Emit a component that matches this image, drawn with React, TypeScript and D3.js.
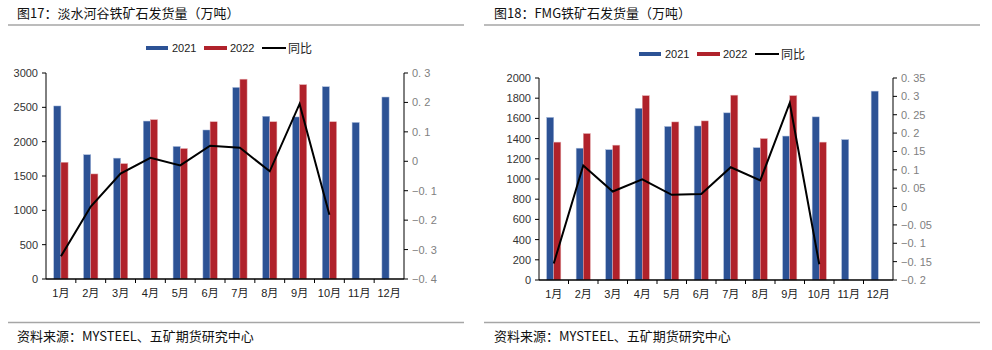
import React from "react";
import * as d3 from "d3";

// months
const months = ["1月", "2月", "3月", "4月", "5月", "6月", "7月", "8月", "9月", "10月", "11月", "12月"];

// Vale shipments (万吨)
const vale2021 = [2520, 1810, 1760, 2300, 1930, 2170, 2790, 2370, 2360, 2800, 2280, 2650];
const vale2022 = [1700, 1530, 1680, 2320, 1900, 2290, 2910, 2290, 2830, 2290];
const valeYoy = [-0.323, -0.154, -0.042, 0.012, -0.014, 0.053, 0.046, -0.034, 0.195, -0.182];
const valeLeftTicks = [0, 500, 1000, 1500, 2000, 2500, 3000];
const valeRightTicks = [-0.4, -0.3, -0.2, -0.1, 0, 0.1, 0.2, 0.3];

// FMG shipments (万吨)
const fmg2021 = [1610, 1305, 1290, 1700, 1520, 1525, 1655, 1310, 1425, 1615, 1390, 1870];
const fmg2022 = [1365, 1450, 1335, 1825, 1565, 1575, 1830, 1400, 1825, 1365];
const fmgYoy = [-0.155, 0.112, 0.041, 0.074, 0.032, 0.034, 0.107, 0.071, 0.282, -0.157];
const fmgLeftTicks = [0, 200, 400, 600, 800, 1000, 1200, 1400, 1600, 1800, 2000];
const fmgRightTicks = [-0.2, -0.15, -0.1, -0.05, 0, 0.05, 0.1, 0.15, 0.2, 0.25, 0.3, 0.35];

const BLUE = "#2c5295";
const RED = "#b0222b";
const CJK = "'Noto Sans CJK SC', 'Liberation Sans', sans-serif";
const NUM = "'Liberation Sans', Arial, sans-serif";

const fmtRight = (d: number) => {
  const s = d3.format("~g")(+d.toFixed(2));
  return s.replace(".", ". ");
};

interface PanelProps {
  title: string;
  ox: number; // panel left
  lineX0: number;
  lineX1: number;
  plot: { x0: number; x1: number; y0: number; y1: number };
  d2021: number[];
  d2022: number[];
  yoy: number[];
  leftTicks: number[];
  rightTicks: number[];
  legendX: number;
  legendY: number;
}

const Panel: React.FC<PanelProps> = ({
  title,
  ox,
  lineX0,
  lineX1,
  plot,
  d2021,
  d2022,
  yoy,
  leftTicks,
  rightTicks,
  legendX,
  legendY,
}) => {
  const x = d3.scaleBand<string>().domain(months).range([plot.x0, plot.x1]);
  const bw = x.bandwidth();
  const barW = bw * 0.24;
  const yL = d3
    .scaleLinear()
    .domain([leftTicks[0], leftTicks[leftTicks.length - 1]])
    .range([plot.y1, plot.y0]);
  const yR = d3
    .scaleLinear()
    .domain([rightTicks[0], rightTicks[rightTicks.length - 1]])
    .range([plot.y1, plot.y0]);

  const line = d3
    .line<number>()
    .x((_, i) => (x(months[i]) as number) + bw / 2)
    .y((d) => yR(d));

  return (
    <g>
      {/* title */}
      <text x={ox + 17} y={18} fontFamily={CJK} fontSize={13} fill="#111">
        {title}
      </text>
      <line x1={lineX0} x2={lineX1} y1={25} y2={25} stroke="#a6a6a6" strokeWidth={1.5} />

      {/* legend */}
      <g fontSize={11}>
        <rect x={legendX} y={legendY - 2} width={22} height={4} fill={BLUE} />
        <text x={legendX + 26} y={legendY + 4} fontFamily={NUM} fill="#222">2021</text>
        <rect x={legendX + 58} y={legendY - 2} width={23} height={4} fill={RED} />
        <text x={legendX + 84} y={legendY + 4} fontFamily={NUM} fill="#222">2022</text>
        <line x1={legendX + 116} x2={legendX + 140} y1={legendY} y2={legendY} stroke="#000" strokeWidth={2} />
        <text x={legendX + 142} y={legendY + 4.5} fontFamily={CJK} fontSize={12} fill="#222">同比</text>
      </g>

      {/* bars */}
      {d2021.map((v, i) => (
        <rect
          key={"a" + i}
          x={(x(months[i]) as number) + bw / 2 - barW}
          y={yL(v)}
          width={barW}
          height={plot.y1 - yL(v)}
          fill={BLUE}
          stroke="#a9bbdc"
          strokeWidth={0.5}
        />
      ))}
      {d2022.map((v, i) => (
        <rect
          key={"b" + i}
          x={(x(months[i]) as number) + bw / 2}
          y={yL(v)}
          width={barW}
          height={plot.y1 - yL(v)}
          fill={RED}
          stroke="#e3a9ad"
          strokeWidth={0.5}
        />
      ))}

      {/* yoy line */}
      <path d={line(yoy) || ""} fill="none" stroke="#000" strokeWidth={2} strokeLinejoin="miter" />

      {/* left axis */}
      <line x1={plot.x0} x2={plot.x0} y1={plot.y0} y2={plot.y1} stroke="#000" strokeWidth={1} />
      {leftTicks.map((t) => (
        <g key={"l" + t}>
          <line x1={plot.x0 - 4} x2={plot.x0} y1={yL(t)} y2={yL(t)} stroke="#000" />
          <text
            x={plot.x0 - 8}
            y={yL(t) + 4}
            textAnchor="end"
            fontFamily={NUM}
            fontSize={11}
            fill="#333"
          >
            {t}
          </text>
        </g>
      ))}

      {/* right axis */}
      <line x1={plot.x1} x2={plot.x1} y1={plot.y0} y2={plot.y1} stroke="#000" strokeWidth={1} />
      {rightTicks.map((t) => (
        <g key={"r" + t}>
          <line x1={plot.x1} x2={plot.x1 + 4} y1={yR(t)} y2={yR(t)} stroke="#000" />
          <text
            x={plot.x1 + 8}
            y={yR(t) + 4}
            fontFamily={NUM}
            fontSize={11}
            fill="#808080"
          >
            {fmtRight(t)}
          </text>
        </g>
      ))}

      {/* x axis */}
      <line x1={plot.x0} x2={plot.x1} y1={plot.y1} y2={plot.y1} stroke="#000" strokeWidth={1.5} />
      {months.map((m, i) => (
        <g key={m}>
          {i > 0 && (
            <line
              x1={x(m) as number}
              x2={x(m) as number}
              y1={plot.y1}
              y2={plot.y1 + 4}
              stroke="#000"
            />
          )}
          <text
            x={(x(m) as number) + bw / 2}
            y={plot.y1 + 18}
            textAnchor="middle"
            fontFamily={NUM + ", " + CJK}
            fontSize={11}
            fill="#222"
          >
            {m}
          </text>
        </g>
      ))}

      {/* source */}
      <line x1={lineX0} x2={lineX1} y1={322.5} y2={322.5} stroke="#a6a6a6" strokeWidth={1.5} />
      <text x={ox + 17} y={341} fontFamily={CJK} fontSize={13} fill="#111">
        资料来源：MYSTEEL、五矿期货研究中心
      </text>
    </g>
  );
};

export default function App() {
  return (
    <div style={{ position: "absolute", left: 0, top: 0 }}>
      <svg width={992} height={350} style={{ display: "block", background: "#fff" }}>
        <Panel
          title="图17：淡水河谷铁矿石发货量（万吨）"
          ox={0}
          lineX0={8}
          lineX1={464}
          plot={{ x0: 46, x1: 404, y0: 73, y1: 279 }}
          d2021={vale2021}
          d2022={vale2022}
          yoy={valeYoy}
          leftTicks={valeLeftTicks}
          rightTicks={valeRightTicks}
          legendX={146}
          legendY={48}
        />
        <Panel
          title="图18：FMG铁矿石发货量（万吨）"
          ox={477}
          lineX0={484}
          lineX1={980}
          plot={{ x0: 539, x1: 893, y0: 78, y1: 280 }}
          d2021={fmg2021}
          d2022={fmg2022}
          yoy={fmgYoy}
          leftTicks={fmgLeftTicks}
          rightTicks={fmgRightTicks}
          legendX={639}
          legendY={54}
        />
      </svg>
    </div>
  );
}
